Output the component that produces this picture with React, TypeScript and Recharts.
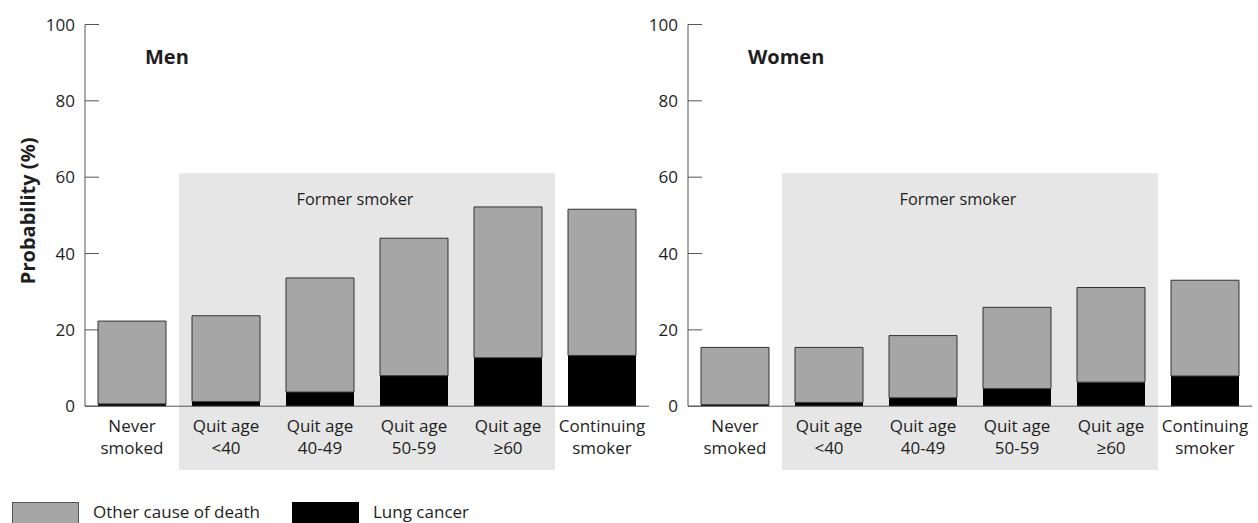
import React from 'react';
import { BarChart, Bar, XAxis, YAxis, ReferenceArea } from 'recharts';

const categories = [
  'Never smoked',
  'Quit age <40',
  'Quit age 40-49',
  'Quit age 50-59',
  'Quit age ≥60',
  'Continuing smoker',
];

// probability (%) split into lung cancer + other causes
const menLung = [0.6, 1.2, 3.7, 8.0, 12.7, 13.3];
const menOther = [21.7, 22.5, 29.9, 36.0, 39.5, 38.3];
const womenLung = [0.4, 1.0, 2.2, 4.6, 6.3, 7.9];
const womenOther = [15.0, 14.4, 16.3, 21.3, 24.8, 25.1];

const yTicks = [0, 20, 40, 60, 80, 100];
const formerFrom = 'Quit age <40';
const formerTo = 'Quit age ≥60';

const GREY = '#a6a6a6';
const BLACK = '#000000';
const SHADE = '#e6e6e6';
const INK = '#1e1e1e';
const AXIS = '#555555';

const legendItems = [
  { name: 'Other cause of death', fill: GREY, border: '#555' },
  { name: 'Lung cancer', fill: BLACK, border: BLACK },
];

const buildRows = (lung: number[], other: number[]) =>
  categories.map((cat, i) => ({ cat, lung: lung[i], other: other[i] }));

const CategoryTick = ({ x, y, payload }: any) => {
  const label = String(payload.value);
  const cut = label.lastIndexOf(' ');
  return (
    <text x={x} textAnchor="middle" fill={INK} fontSize={17}>
      <tspan x={x} y={y + 18}>{label.slice(0, cut)}</tspan>
      <tspan x={x} y={y + 39.5}>{label.slice(cut + 1)}</tspan>
    </text>
  );
};

const FormerLabel = ({ viewBox }: any) => {
  if (!viewBox) return null;
  return (
    <text
      x={viewBox.x + viewBox.width / 2 - 12}
      y={viewBox.y + 31.5}
      textAnchor="middle"
      fill={INK}
      fontSize={16.3}
    >
      Former smoker
    </text>
  );
};

const YLabel = ({ viewBox }: any) => {
  if (!viewBox) return null;
  const cy = viewBox.y + viewBox.height / 2 - 4.5;
  return (
    <text
      transform={`translate(34.5 ${cy}) rotate(-90)`}
      textAnchor="middle"
      fill={INK}
      fontSize={20}
      fontWeight={700}
    >
      Probability (%)
    </text>
  );
};

function Panel({ title, rows, left, width, right, yLabel }: any) {
  return (
    <div style={{ position: 'absolute', left, top: 0 }}>
      <BarChart
        width={width}
        height={523}
        data={rows}
        margin={{ top: 24.5, right, bottom: 56.8, left: 0 }}
        barSize={68}
      >
        <ReferenceArea
          x1={formerFrom}
          x2={formerTo}
          y1={-16.7}
          y2={61}
          fill={SHADE}
          fillOpacity={1}
          stroke="none"
          ifOverflow="visible"
          label={<FormerLabel />}
        />
        <XAxis
          dataKey="cat"
          height={60}
          interval={0}
          tick={<CategoryTick />}
          tickLine={false}
          stroke={AXIS}
        />
        <YAxis
          width={85}
          domain={[0, 100]}
          ticks={yTicks}
          interval={0}
          tickSize={-14}
          tickMargin={24}
          tick={{ fill: INK, fontSize: 17 }}
          stroke={AXIS}
          label={yLabel ? <YLabel /> : undefined}
        />
        <Bar dataKey="lung" stackId="s" fill={BLACK} isAnimationActive={false} />
        <Bar dataKey="other" stackId="s" fill={GREY} stroke="#333" strokeWidth={1} isAnimationActive={false} />
      </BarChart>
      <div
        style={{
          position: 'absolute', left: 145, top: 47,
          fontSize: 20, lineHeight: '20px', fontWeight: 700, color: INK,
        }}
      >
        {title}
      </div>
    </div>
  );
}

export default function App() {
  return (
    <div
      style={{
        position: 'absolute', left: 0, top: 0, width: 1258, height: 523,
        overflow: 'hidden', background: '#fff', fontFamily: '"Open Sans", sans-serif',
      }}
    >
      <Panel title="Men" rows={buildRows(menLung, menOther)} left={0} width={660} right={11} yLabel />
      <Panel title="Women" rows={buildRows(womenLung, womenOther)} left={603} width={655} right={6} />
      {legendItems.map((item, i) => (
        <div key={item.name} style={{ position: 'absolute', left: 12 + i * 280, top: 502 }}>
          <div
            style={{
              position: 'absolute', left: 0, top: 0, width: 65, height: 24,
              background: item.fill, border: `1px solid ${item.border}`,
            }}
          />
          <div
            style={{
              position: 'absolute', left: 81, top: 1, whiteSpace: 'nowrap',
              fontSize: 17, lineHeight: '17px', color: INK,
            }}
          >
            {item.name}
          </div>
        </div>
      ))}
    </div>
  );
}
